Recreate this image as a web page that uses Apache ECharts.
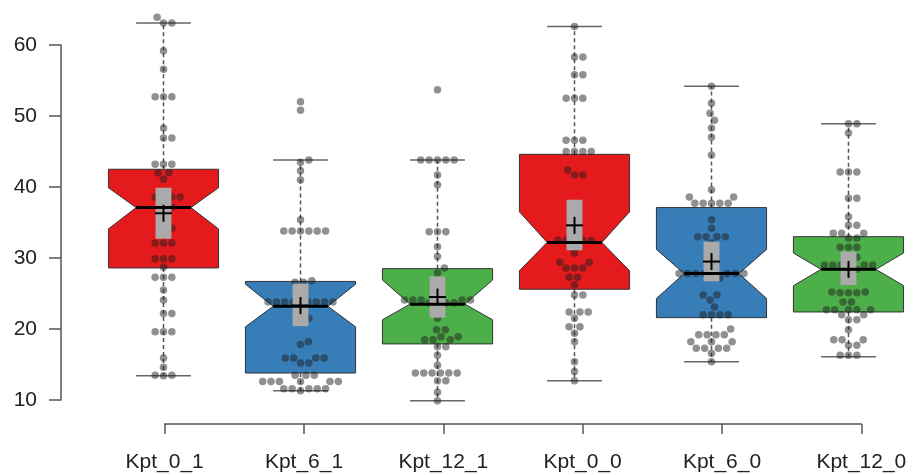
<!DOCTYPE html>
<html>
<head>
<meta charset="utf-8">
<script src="https://cdn.jsdelivr.net/npm/echarts@6/dist/echarts.min.js"></script>
<style>
html, body { margin: 0; padding: 0; background: #fff; }
#container { width: 917px; height: 475px; }
</style>
</head>
<body>
<div id="container"></div>
<script>
// 初始化echarts实例
var myChart = echarts.init(document.getElementById('container'));

// 分组名称
var categories = ['Kpt_0_1', 'Kpt_6_1', 'Kpt_12_1', 'Kpt_0_0', 'Kpt_6_0', 'Kpt_12_0'];
var boxColors = ['#E41A1C', '#377EB8', '#4DAF4A', '#E41A1C', '#377EB8', '#4DAF4A'];
var yTicks = [10, 20, 30, 40, 50, 60];

// 箱线图统计量
var lowWhisker = [13.4, 11.3, 9.9, 12.7, 15.4, 16.1];
var q1 = [28.6, 13.8, 17.9, 25.6, 21.6, 22.4];
var notchLow = [34.1, 20.3, 21.3, 28.2, 24.3, 26.1];
var median = [37.1, 23.2, 23.5, 32.2, 27.8, 28.4];
var notchHigh = [39.9, 26.3, 26.9, 36.5, 31.2, 30.7];
var q3 = [42.5, 26.7, 28.5, 44.6, 37.1, 33.0];
var highWhisker = [63.1, 43.8, 43.8, 62.6, 54.2, 48.9];
var meanCiLow = [32.7, 20.4, 21.6, 31.1, 26.7, 26.2];
var mean = [36.3, 23.3, 24.5, 34.6, 29.5, 28.4];
var meanCiHigh = [39.9, 26.4, 27.4, 38.2, 32.3, 30.9];

// 原始观测点
var kpt_0_1 = [63.9, 63.1, 63.1, 59.2, 56.6, 52.7, 52.7, 52.7, 48.3, 46.9, 46.9, 43.2, 43.2, 43.2, 42.0, 42.0,
    41.1, 38.6, 38.6, 38.6, 38.6, 37.2, 37.0, 35.6, 34.2, 34.2, 32.1, 32.1, 32.1, 29.9, 29.9, 29.9, 28.7,
    27.3, 27.3, 27.3, 25.5, 24.1, 22.2, 22.2, 19.6, 19.6, 19.6, 15.9, 14.6, 13.5, 13.5, 13.4];
var kpt_6_1 = [52.0, 50.8, 43.8, 43.5, 42.3, 41.0, 35.4, 33.8, 33.8, 33.8, 33.8, 33.8, 33.8, 26.8, 26.6, 26.6,
    25.5, 23.8, 23.8, 23.8, 23.8, 23.8, 23.8, 23.8, 23.8, 23.2, 21.5, 21.5, 18.2, 17.8, 15.9, 15.9, 15.9, 15.9,
    15.2, 15.2, 13.5, 13.5, 13.5, 12.6, 12.6, 12.6, 12.6, 12.6, 12.6, 11.6, 11.6, 11.6, 11.6, 11.6, 11.3];
var kpt_12_1 = [53.7, 43.8, 43.8, 43.8, 43.8, 43.8, 41.7, 40.3, 33.7, 33.7, 33.7, 31.6, 30.2, 28.6, 27.9,
    24.1, 24.1, 24.1, 24.1, 24.1, 23.7, 23.7, 23.7, 23.7, 21.5, 19.9, 19.9, 18.9, 18.9, 18.5, 18.5, 18.5,
    17.5, 17.5, 16.3, 14.9, 13.8, 13.8, 13.8, 13.8, 13.8, 13.8, 12.7, 12.7, 11.1, 9.9];
var kpt_0_0 = [62.6, 58.3, 58.3, 55.8, 55.8, 52.5, 52.5, 52.5, 46.6, 46.6, 46.6, 45.0, 45.0, 45.0, 45.0, 42.4,
    41.7, 41.7, 37.5, 32.5, 32.5, 32.5, 32.5, 32.2, 30.7, 29.4, 29.4, 28.6, 28.6, 28.6, 27.3, 27.3, 26.2,
    24.8, 24.8, 22.4, 22.4, 22.4, 21.5, 20.3, 20.3, 19.4, 18.2, 15.4, 14.0, 12.7];
var kpt_6_0 = [54.2, 51.8, 50.4, 49.4, 48.3, 47.0, 44.5, 39.6, 38.6, 38.6, 37.7, 37.7, 37.7, 37.7, 37.7, 35.4,
    34.2, 33.0, 33.0, 33.0, 33.0, 32.1, 27.8, 27.8, 27.8, 27.8, 27.8, 27.8, 27.8, 27.2, 27.2, 24.8, 24.8,
    24.1, 23.1, 22.0, 22.0, 22.0, 22.0, 20.0, 19.2, 19.2, 19.2, 19.2, 18.2, 18.2, 18.2, 17.3, 17.3, 17.3,
    17.3, 16.6, 15.4];
var kpt_12_0 = [48.9, 48.9, 47.6, 42.1, 42.1, 42.1, 38.4, 38.4, 35.8, 34.6, 34.6, 33.5, 33.5, 33.5, 32.8, 32.8,
    31.5, 31.5, 31.5, 30.1, 30.1, 29.0, 29.0, 29.0, 29.0, 29.0, 28.4, 28.4, 25.2, 25.2, 25.1, 25.1, 25.1,
    23.8, 23.8, 22.7, 22.7, 22.7, 22.7, 22.7, 22.0, 22.0, 21.3, 21.3, 19.9, 18.5, 18.5, 18.5, 17.7, 17.7,
    16.3, 16.3, 16.3];
var groups = [kpt_0_1, kpt_6_1, kpt_12_1, kpt_0_0, kpt_6_0, kpt_12_0];

// 绘图区尺寸
var gridLeft = 95, gridWidth = 836, gridTop = 45, gridHeight = 355;
var yMin = 10, yMax = 60;
var pxPerX = gridWidth / categories.length;
var pxPerY = gridHeight / (yMax - yMin);

// 蜂群图偏移（像素 -> x轴单位）
function swarm(vals, d) {
    var order = vals.map(function (v, i) { return i; }).sort(function (a, b) { return vals[a] - vals[b]; });
    var placed = [];
    var offs = new Array(vals.length);
    order.forEach(function (i) {
        var y = vals[i] * pxPerY;
        for (var k = 0; k < 400; k++) {
            var found = null;
            var cands = k === 0 ? [0] : [k * 0.5, -k * 0.5];
            for (var c = 0; c < cands.length; c++) {
                var ok = true;
                for (var p = 0; p < placed.length; p++) {
                    var dx = placed[p][0] - cands[c], dy = placed[p][1] - y;
                    if (dx * dx + dy * dy < d * d) { ok = false; break; }
                }
                if (ok) { found = cands[c]; break; }
            }
            if (found !== null) {
                placed.push([found, y]);
                offs[i] = found / pxPerX;
                break;
            }
        }
    });
    return offs;
}

var pointData = [];
groups.forEach(function (vals, gi) {
    var offs = swarm(vals, 8.3);
    vals.forEach(function (v, i) {
        pointData.push([gi + offs[i], v]);
    });
});

var boxData = categories.map(function (c, i) {
    return [i, lowWhisker[i], q1[i], notchLow[i], median[i], notchHigh[i], q3[i], highWhisker[i],
        meanCiLow[i], mean[i], meanCiHigh[i]];
});

var halfBox = 0.402, halfNotch = 0.2;

function renderBox(params, api) {
    var i = api.value(0);
    var P = function (x, y) { return api.coord([x, y]); };
    var lo = api.value(1), a = api.value(2), nl = api.value(3), md = api.value(4),
        nh = api.value(5), b = api.value(6), hi = api.value(7);
    var dash = {stroke: '#555', lineWidth: 1.5, lineDash: [4, 3]};
    var cap = {stroke: '#666', lineWidth: 1.5};
    var poly = [P(i - halfBox, b), P(i + halfBox, b), P(i + halfBox, nh), P(i + halfNotch, md),
        P(i + halfBox, nl), P(i + halfBox, a), P(i - halfBox, a), P(i - halfBox, nl),
        P(i - halfNotch, md), P(i - halfBox, nh)];
    var c1 = P(i, b), c2 = P(i, hi), c3 = P(i, a), c4 = P(i, lo);
    var k1 = P(i - halfNotch, hi), k2 = P(i + halfNotch, hi), k3 = P(i - halfNotch, lo), k4 = P(i + halfNotch, lo);
    return {
        type: 'group',
        children: [
            {type: 'line', shape: {x1: c1[0], y1: c1[1], x2: c2[0], y2: c2[1]}, style: dash},
            {type: 'line', shape: {x1: c3[0], y1: c3[1], x2: c4[0], y2: c4[1]}, style: dash},
            {type: 'line', shape: {x1: k1[0], y1: k1[1], x2: k2[0], y2: k2[1]}, style: cap},
            {type: 'line', shape: {x1: k3[0], y1: k3[1], x2: k4[0], y2: k4[1]}, style: cap},
            {type: 'polygon', shape: {points: poly},
                style: {fill: boxColors[i], stroke: '#333', lineWidth: 1}}
        ]
    };
}

function renderMean(params, api) {
    var i = api.value(0);
    var P = function (x, y) { return api.coord([x, y]); };
    var md = api.value(4), cl = api.value(8), mn = api.value(9), ch = api.value(10);
    var r1 = P(i - 0.058, ch), r2 = P(i + 0.058, cl);
    var m1 = P(i - halfNotch, md), m2 = P(i + halfNotch, md);
    var c = P(i, mn), s = 8.5;
    return {
        type: 'group',
        children: [
            {type: 'rect', shape: {x: r1[0], y: r1[1], width: r2[0] - r1[0], height: r2[1] - r1[1]},
                style: {fill: '#AAAAAA'}},
            {type: 'line', shape: {x1: m1[0], y1: m1[1], x2: m2[0], y2: m2[1]},
                style: {stroke: '#000', lineWidth: 3}},
            {type: 'line', shape: {x1: c[0] - s, y1: c[1], x2: c[0] + s, y2: c[1]},
                style: {stroke: '#000', lineWidth: 2}},
            {type: 'line', shape: {x1: c[0], y1: c[1] - s, x2: c[0], y2: c[1] + s},
                style: {stroke: '#000', lineWidth: 2}}
        ]
    };
}

var labelFont = {fontFamily: 'Liberation Sans', fontSize: 21, color: '#222'};

var option = {
    animation: false,
    grid: [
        {left: gridLeft, width: gridWidth, top: gridTop, height: gridHeight},
        {left: gridLeft + pxPerX / 2, width: pxPerX * 5, top: 423, height: 1}
    ],
    xAxis: [
        {type: 'value', gridIndex: 0, min: -0.5, max: categories.length - 0.5, show: false},
        {
            type: 'value', gridIndex: 1, min: 0, max: 5, interval: 1, position: 'bottom',
            axisLine: {onZero: false, lineStyle: {color: '#555', width: 1.5}},
            axisTick: {length: 10, lineStyle: {color: '#555', width: 1.5}},
            splitLine: {show: false},
            axisLabel: Object.assign({
                margin: 28,
                formatter: function (v) { return categories[v]; }
            }, labelFont)
        }
    ],
    yAxis: [
        {
            type: 'value', gridIndex: 0, min: yMin, max: yMax, interval: 10, offset: 34, position: 'left',
            axisLine: {show: true, onZero: false, lineStyle: {color: '#555', width: 1.5}},
            axisTick: {show: true, length: 12, lineStyle: {color: '#555', width: 1.5}},
            splitLine: {show: false},
            axisLabel: Object.assign({
                margin: 24,
                formatter: function (v) { return yTicks.indexOf(v) >= 0 ? String(v) : ''; }
            }, labelFont)
        },
        {type: 'value', gridIndex: 1, show: false}
    ],
    series: [
        {
            type: 'custom', xAxisIndex: 0, yAxisIndex: 0, z: 2, clip: false,
            renderItem: renderBox, data: boxData
        },
        {
            type: 'scatter', xAxisIndex: 0, yAxisIndex: 0, z: 3, clip: false,
            symbol: 'circle', symbolSize: 7.5,
            itemStyle: {color: 'rgba(30,30,30,0.62)'},
            data: pointData
        },
        {
            type: 'custom', xAxisIndex: 0, yAxisIndex: 0, z: 4, clip: false,
            renderItem: renderMean, data: boxData
        }
    ]
};
myChart.setOption(option, true);

window.onresize = function () {
    myChart.resize();
};
</script>
</body>
</html>
